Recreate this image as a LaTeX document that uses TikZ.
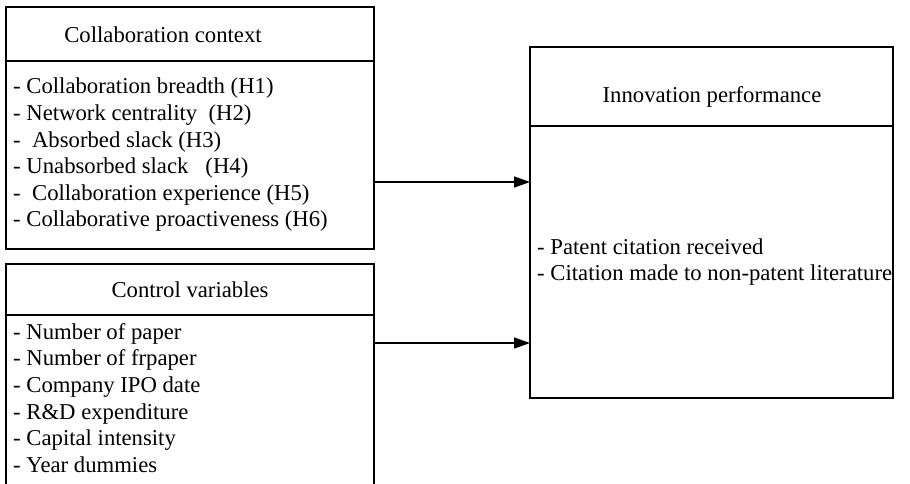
\documentclass[tikz,border=0pt]{standalone}
\usepackage{fontspec}
\setmainfont{Liberation Serif}
\usetikzlibrary{arrows.meta}
\begin{document}
\begin{tikzpicture}[x=1pt,y=-1pt,
  box/.style={draw,line width=1.4pt,rectangle,inner sep=0pt,outer sep=0pt,anchor=north west},
  sep/.style={line width=1.4pt},
  title/.style={inner sep=0pt,font=\fontsize{22.7}{26.5}\selectfont},
  body/.style={inner sep=0pt,anchor=west,align=left,font=\fontsize{22.7}{26.6}\selectfont},
  conn/.style={line width=1.4pt,-{Triangle[length=16pt,width=11pt]}}]
\clip (0,0) rectangle (910,483);
\fill[white] (0,0) rectangle (910,483);
% boxes
\node[box,minimum width=368pt,minimum height=242pt] (ctx) at (6,7) {};
\node[box,minimum width=368pt,minimum height=240pt] (ctl) at (6,264) {};
\node[box,minimum width=363pt,minimum height=351pt] (perf) at (530,47) {};
% dividers
\draw[sep] (ctx.west |- 0,61) -- (ctx.east |- 0,61);
\draw[sep] (ctl.west |- 0,315) -- (ctl.east |- 0,315);
\draw[sep] (perf.west |- 0,126) -- (perf.east |- 0,126);
% titles
\node[title] (ctxt) at (163,35) {Collaboration context};
\node[title] (ctlt) at (190,290) {Control variables};
\node[title] (perft) at (712,97) {Innovation performance};
% bodies
\node[body] (ctxb) at (13,155) {- Collaboration breadth (H1)\\- Network centrality\ \ (H2)\\-\ \ Absorbed slack (H3)\\- Unabsorbed slack\ \ \ (H4)\\-\ \ Collaboration experience (H5)\\- Collaborative proactiveness (H6)};
\node[body] (ctlb) at (13,398) {- Number of paper\\- Number of frpaper\\- Company IPO date\\- R\&D expenditure\\- Capital intensity\\- Year dummies};
\node[body] (perfb) at (537,262) {- Patent citation received\\- Citation made to non-patent literature};
% connectors
\coordinate (a1) at (0,182);
\coordinate (a2) at (0,343);
\draw[conn] (ctx.east |- a1) -- (perf.west |- a1);
\draw[conn] (ctl.east |- a2) -- (perf.west |- a2);
\end{tikzpicture}
\end{document}
